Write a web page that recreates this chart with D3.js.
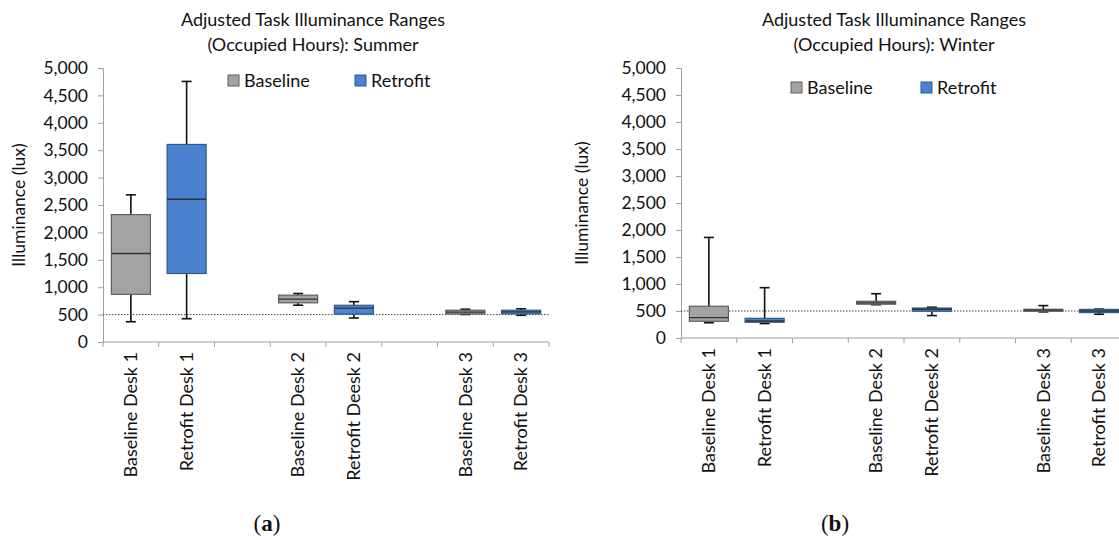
<!DOCTYPE html>
<html><head><meta charset="utf-8">
<script src="https://cdn.jsdelivr.net/npm/d3@7"></script>
<style>body{margin:0;background:#fff}svg{display:block}text{font-family:Lato,"Open Sans",sans-serif;fill:#111}</style>
</head><body>
<svg id="c" width="1119" height="540"></svg>
<script>
const categories = ["Baseline Desk 1","Retrofit Desk 1","","Baseline Desk 2","Retrofit Deesk 2","","Baseline Desk 3","Retrofit Desk 3"];
const groups = ["Baseline","Retrofit","","Baseline","Retrofit","","Baseline","Retrofit"];
const yTicks = [0,500,1000,1500,2000,2500,3000,3500,4000,4500,5000];
const threshold = 500;
// [low, q1, median, q3, high] per category (null for gaps)
const summerStats = [[370,870,1615,2325,2685],[425,1250,2605,3605,4755],null,[672,715,782,855,885],[438,508,617,670,736],null,[503,512,545,580,598],[487,515,548,580,606]];
const winterStats = [[283,310,377,588,1862],[268,292,315,364,932],null,[617,626,652,680,820],[415,495,532,555,570],null,[484,495,516,532,600],[440,470,500,530,535]];
const titles = [["Adjusted Task Illuminance Ranges","(Occupied Hours): Summer"],["Adjusted Task Illuminance Ranges","(Occupied Hours): Winter"]];
const letters = ["a","b"];
const fills = {Baseline:"#a3a3a3",Retrofit:"#4a82d0"};
const strokes = {Baseline:"#5e5e5e",Retrofit:"#2e5a8e"};

const svg = d3.select("#c");
const panels = [
  {x0:103,x1:549,y0:342,y1:68,stats:summerStats,title:titles[0],tx:313,lx:267,legend:{y:81,bx:228,rx:355},ytitleX:19},
  {x0:681,x1:1127,y0:338,y1:68,stats:winterStats,title:titles[1],tx:894,lx:835,legend:{y:88,bx:791,rx:921},ytitleX:582}
];

panels.forEach((p,pi)=>{
  const g = svg.append("g");
  const x = d3.scaleBand().domain(d3.range(categories.length)).range([p.x0,p.x1]);
  const y = d3.scaleLinear().domain([0,5000]).range([p.y0,p.y1]);

  p.title.forEach((t,i)=>g.append("text").attr("x",p.tx).attr("y",26+i*25).attr("text-anchor","middle").attr("font-size",18).text(t));

  const ya = g.append("g").attr("transform",`translate(${p.x0},0)`)
    .call(d3.axisLeft(y).tickValues(yTicks).tickSize(5).tickPadding(10).tickFormat(d3.format(",")));
  ya.select(".domain").attr("stroke","#a0a0a0");
  ya.selectAll(".tick line").attr("stroke","#a0a0a0");
  ya.selectAll(".tick text").attr("font-size",17.5).attr("fill","#111").attr("font-family","Lato,'Open Sans',sans-serif");

  g.append("text").attr("transform",`translate(${p.ytitleX},${(p.y0+p.y1)/2}) rotate(-90)`)
    .attr("text-anchor","middle").attr("dy","0.35em").attr("font-size",17.5).text("Illuminance (lux)");

  const bounds = d3.range(categories.length+1).map(i=>p.x0+i*x.bandwidth());
  g.append("line").attr("x1",p.x0).attr("x2",p.x1).attr("y1",p.y0).attr("y2",p.y0).attr("stroke","#a0a0a0");
  g.selectAll(".xt").data(bounds).join("line").attr("x1",d=>d).attr("x2",d=>d).attr("y1",p.y0).attr("y2",p.y0+5).attr("stroke","#a0a0a0");
  g.selectAll(".xl").data(categories.map((c,i)=>({c,i})).filter(d=>d.c)).join("text")
    .attr("transform",d=>`translate(${x(d.i)+x.bandwidth()/2},${p.y0+10}) rotate(-90)`)
    .attr("text-anchor","end").attr("dy","0.35em").attr("font-size",18).text(d=>d.c);

  g.append("line").attr("x1",p.x0).attr("x2",p.x1).attr("y1",y(threshold)).attr("y2",y(threshold))
    .attr("stroke","#444").attr("stroke-width",1).attr("stroke-dasharray","1.5,1.5");

  const bw = x.bandwidth()*0.7, cap = 10;
  p.stats.forEach((s,i)=>{
    if(!s) return;
    const cx = x(i)+x.bandwidth()/2, grp = groups[i];
    const [lo,q1,md,q3,hi] = s;
    g.append("line").attr("x1",cx).attr("x2",cx).attr("y1",y(hi)).attr("y2",y(q3)).attr("stroke","#111").attr("stroke-width",1.6);
    g.append("line").attr("x1",cx).attr("x2",cx).attr("y1",y(q1)).attr("y2",y(lo)).attr("stroke","#111").attr("stroke-width",1.6);
    g.append("line").attr("x1",cx-cap/2).attr("x2",cx+cap/2).attr("y1",y(hi)).attr("y2",y(hi)).attr("stroke","#111").attr("stroke-width",1.6);
    g.append("line").attr("x1",cx-cap/2).attr("x2",cx+cap/2).attr("y1",y(lo)).attr("y2",y(lo)).attr("stroke","#111").attr("stroke-width",1.6);
    g.append("rect").attr("x",cx-bw/2).attr("width",bw).attr("y",y(q3)).attr("height",Math.max(1,y(q1)-y(q3)))
      .attr("fill",fills[grp]).attr("stroke",strokes[grp]).attr("stroke-width",1.2);
    g.append("line").attr("x1",cx-bw/2).attr("x2",cx+bw/2).attr("y1",y(md)).attr("y2",y(md)).attr("stroke","#333").attr("stroke-width",1.3);
  });

  [["Baseline",p.legend.bx],["Retrofit",p.legend.rx]].forEach(([k,lx])=>{
    g.append("rect").attr("x",lx).attr("y",p.legend.y-6).attr("width",11).attr("height",11)
      .attr("fill",fills[k]).attr("stroke",strokes[k]).attr("stroke-width",1);
    g.append("text").attr("x",lx+16).attr("y",p.legend.y).attr("dy","0.35em").attr("font-size",18).text(k);
  });

  const lt = g.append("text").attr("x",p.lx).attr("y",531).attr("text-anchor","middle")
    .attr("font-size",23).style("font-family","'Liberation Serif',serif");
  lt.append("tspan").text("(");
  lt.append("tspan").attr("font-weight","bold").text(letters[pi]);
  lt.append("tspan").text(")");
});
</script>
</body></html>
